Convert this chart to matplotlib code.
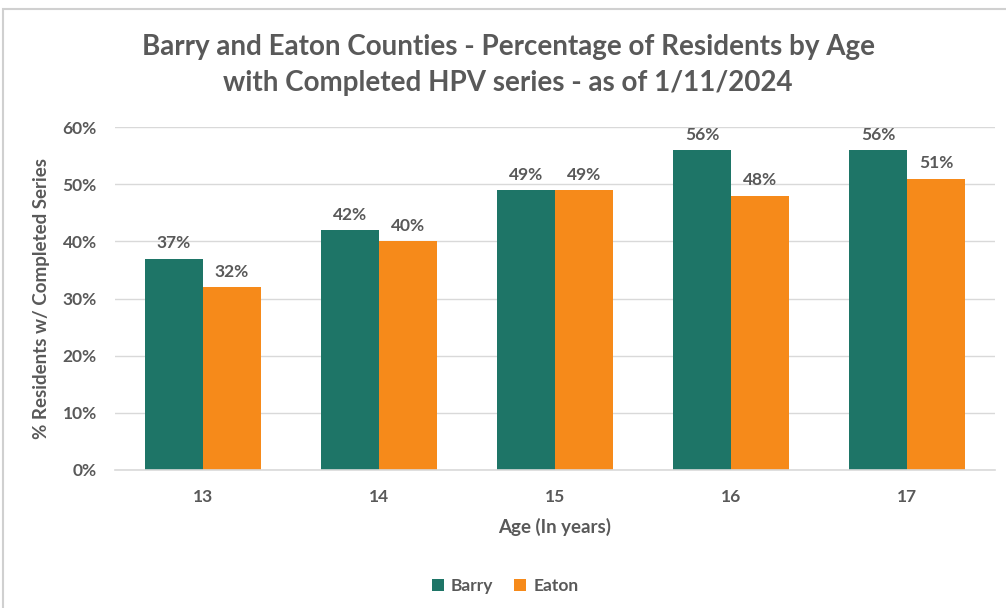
import numpy as np
import matplotlib
matplotlib.use('Agg')
import matplotlib.pyplot as plt
import matplotlib.patches as mpatches
from matplotlib.ticker import FuncFormatter

plt.rcParams['font.family'] = ['Lato', 'DejaVu Sans']

# ── Data ──────────────────────────────────────────────────────────────────────
ages  = ['13', '14', '15', '16', '17']
barry = [37, 42, 49, 56, 56]
eaton = [32, 40, 49, 48, 51]

col_barry = '#1E7567'
col_eaton = '#F68A1A'
col_text  = '#595959'
col_grid  = '#D9D9D9'

# ── Figure ────────────────────────────────────────────────────────────────────
fig = plt.figure(figsize=(10.06, 6.08), dpi=100)
ax = fig.add_axes([0.1143, 0.227, 0.8747, 0.564])

# chart frame
fig.patches.append(mpatches.Rectangle((0.003, -0.05), 1.2, 1.035,
                                      transform=fig.transFigure, fill=False,
                                      edgecolor='#D0D0D0', linewidth=1.5))

x = np.arange(len(ages))
w = 0.33
b1 = ax.bar(x - w / 2, barry, w, color=col_barry, label='Barry', zorder=2)
b2 = ax.bar(x + w / 2, eaton, w, color=col_eaton, label='Eaton', zorder=2)

for bars in (b1, b2):
    for r in bars:
        ax.text(r.get_x() + r.get_width() / 2, r.get_height() + 1.3,
                f'{r.get_height():.0f}%', ha='center', va='bottom',
                fontsize=12.5, fontweight='bold', color=col_text)

ax.set_xlim(-0.5, 4.5)
ax.set_ylim(0, 60)
ax.set_yticks(range(0, 61, 10))
ax.yaxis.set_major_formatter(FuncFormatter(lambda v, _: f'{v:.0f}%'))
ax.set_xticks(x)
ax.set_xticklabels(ages)
ax.tick_params(length=0, labelsize=12.5, labelcolor=col_text)
for lbl in ax.get_xticklabels() + ax.get_yticklabels():
    lbl.set_fontweight('bold')
ax.tick_params(axis='x', pad=14)
ax.tick_params(axis='y', pad=13)

ax.grid(axis='y', color=col_grid, linewidth=1, zorder=0)
ax.set_axisbelow(True)
for s in ['top', 'right', 'left']:
    ax.spines[s].set_visible(False)
ax.spines['bottom'].set_color(col_grid)
ax.spines['bottom'].set_linewidth(1.2)

ax.set_xlabel('Age (In years)', fontsize=13.5, fontweight='bold',
              color=col_text, labelpad=9)
ax.set_ylabel('% Residents w/ Completed Series', fontsize=13.5,
              fontweight='bold', color=col_text, labelpad=9)

fig.text(0.505, 0.893,
         'Barry and Eaton Counties - Percentage of Residents by Age\n'
         'with Completed HPV series - as of 1/11/2024',
         ha='center', va='center', fontsize=20, fontweight='bold',
         color=col_text, linespacing=1.5)

fig.legend(handles=[b1, b2], loc='center', bbox_to_anchor=(0.502, 0.036),
           ncol=2, frameon=False, handlelength=0.7,
           handleheight=0.7, columnspacing=1.2, handletextpad=0.4,
           labelcolor=col_text, prop={'weight': 'bold', 'size': 12.5})

fig.savefig('out.png', dpi=100)
